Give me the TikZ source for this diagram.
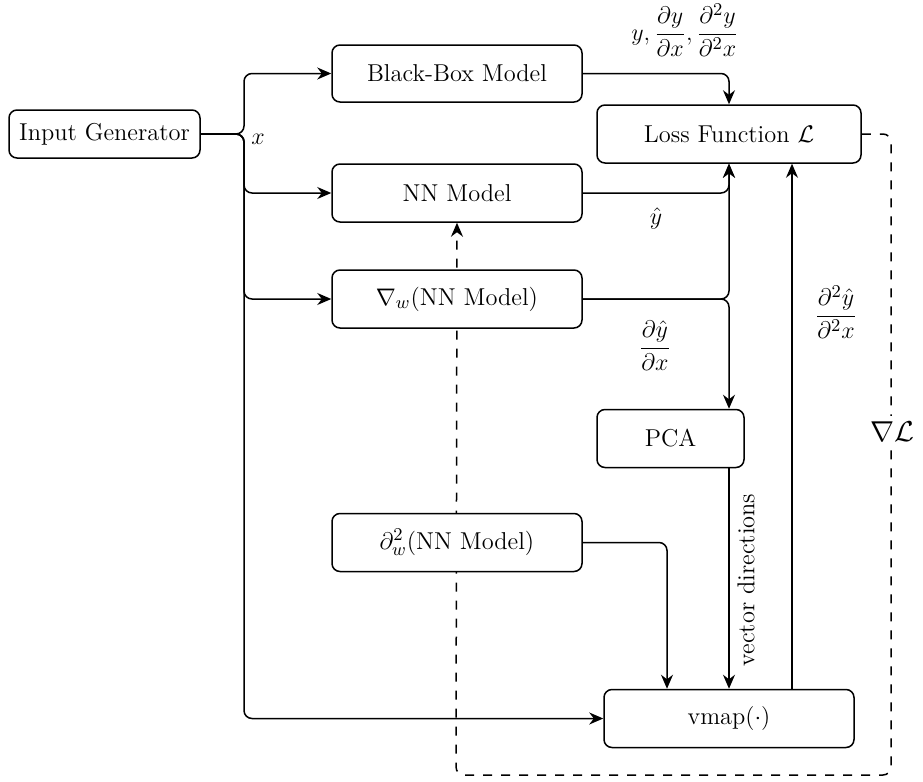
\documentclass[tikz,border=0pt]{standalone}
\usepackage{amsmath}
\usetikzlibrary{arrows.meta,calc}
\pgfdeclarelayer{bg}
\pgfsetlayers{bg,main}
\begin{document}
\begin{tikzpicture}[x=0.5pt,y=-0.5pt,
  every node/.style={font=\fontsize{12.2}{14}\selectfont},
  box/.style={draw, fill=white, rounded corners=4pt, line width=0.75pt, inner sep=0pt, minimum height=29pt},
  conn/.style={line width=0.75pt, rounded corners=4pt, -{Stealth[length=7pt,width=6pt]}},
  dconn/.style={conn, dash pattern=on 4.5pt off 4.5pt},
  lbl/.style={inner sep=1pt}]
\useasboundingbox (0,0) rectangle (923,782);
% nodes
\node[box, minimum width=95.5pt, minimum height=24pt] (ig) at (104.5,134) {Input Generator};
\node[box, minimum width=125pt, minimum height=28.5pt] (bb) at (457,73.5) {Black-Box Model};
\node[box, minimum width=132pt] (loss) at (729,134) {Loss Function $\mathcal{L}$};
\node[box, minimum width=125pt] (nn) at (457,193) {NN Model};
\node[box, minimum width=125pt] (gw) at (457,299) {$\nabla_w$(NN Model)};
\node[box, minimum width=73.5pt] (pca) at (670.5,438.5) {PCA};
\node[box, minimum width=125pt] (hw) at (457,542.5) {$\partial_w^2$(NN Model)};
\node[box, minimum width=125pt] (vm) at (729,718.5) {vmap$(\cdot)$};
\coordinate (fork) at (244,134);
% input fan-out
\draw[conn] (ig.east) -- (fork) |- (bb.west);
\draw[conn] (ig.east) -- (fork) |- (nn.west);
\draw[conn] (ig.east) -- (fork) |- (gw.west);
\draw[conn] (ig.east) -- (fork) |- (vm.west);
\node[lbl] (xl) at (258,139) {$x$};
% to loss
\draw[conn] (bb.east) -| (loss.north);
\draw[conn] (nn.east) -| (loss.south);
\draw[conn] (gw.east) -| (loss.south);
\draw[conn] (gw.east) -| (loss.south |- pca.north);
\draw[conn] (pca.south -| vm.north) -- (vm.north);
\draw[conn] (hw.east) -| ($(vm.north)+(-62,0)$);
\draw[conn] ($(vm.north)+(63,0)$) -- ($(loss.south)+(63,0)$);
% dashed gradient feedback (behind boxes)
\begin{pgfonlayer}{bg}
\draw[dconn] (loss.east) -- (891,134) -- (891,775) -- (456,775) -- (nn.south);
\end{pgfonlayer}
% labels
\node[lbl] (l1) at (685,30) {$y,\dfrac{\partial y}{\partial x},\dfrac{\partial^2 y}{\partial^2 x}$};
\node[lbl] (l2) at (656,218) {$\hat{y}$};
\node[lbl] (l3) at (655,346) {$\dfrac{\partial \hat{y}}{\partial x}$};
\node[lbl] (l4) at (836,312) {$\dfrac{\partial^2 \hat{y}}{\partial^2 x}$};
\node[lbl, rotate=90] (l5) at (746,580) {vector directions};
\node[lbl, fill=white, font=\fontsize{15}{18}\selectfont, inner sep=3pt] (l6) at (892,432) {$\nabla\mathcal{L}$};
\end{tikzpicture}
\end{document}
